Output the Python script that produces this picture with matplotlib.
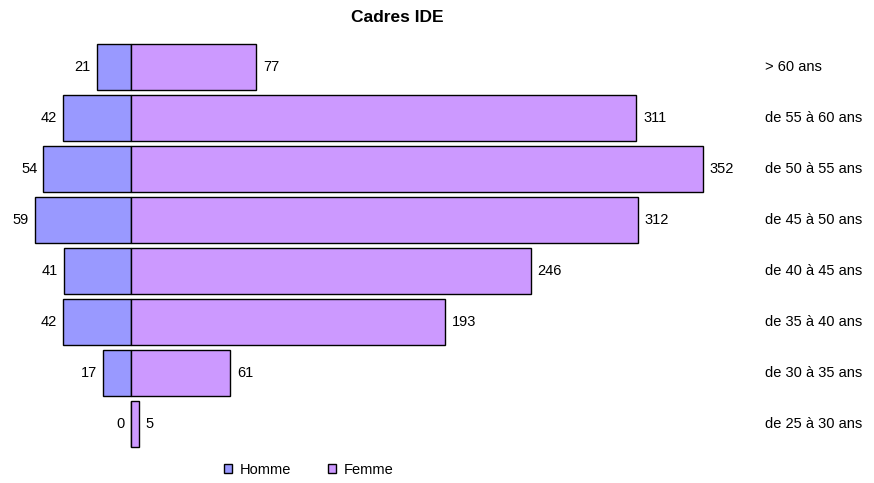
import numpy as np
import matplotlib.pyplot as plt
from matplotlib.patches import Patch

# data
tranches = ['> 60 ans', 'de 55 à 60 ans', 'de 50 à 55 ans', 'de 45 à 50 ans',
            'de 40 à 45 ans', 'de 35 à 40 ans', 'de 30 à 35 ans', 'de 25 à 30 ans']
hommes = [21, 42, 54, 59, 41, 42, 17, 0]
femmes = [77, 311, 352, 312, 246, 193, 61, 5]

c_homme = '#9999FF'
c_femme = '#CC99FF'

plt.rcParams['font.family'] = ['Liberation Sans', 'DejaVu Sans']

fig = plt.figure(figsize=(8.74, 4.83), dpi=100)
ax = fig.add_axes([0, 0, 1, 1])

y = np.arange(len(tranches))
h = 0.9
ax.barh(y, [-v for v in hommes], height=h, color=c_homme, edgecolor='black', linewidth=1)
ax.barh(y, femmes, height=h, color=c_femme, edgecolor='black', linewidth=1)

# value labels
fs = 10.5
for i in range(len(tranches)):
    ax.text(-hommes[i] - 3.7, y[i], str(hommes[i]), ha='right', va='center', fontsize=fs)
    ax.text(femmes[i] + 4.2, y[i], str(femmes[i]), ha='left', va='center', fontsize=fs)
    ax.text(390, y[i], tranches[i], ha='left', va='center', fontsize=fs)

# scale: zero at 131px, 1.625 px per person
ax.set_xlim(-131 / 1.625, (874 - 131) / 1.625)
ax.set_ylim((483 - 67) / 51, -67 / 51)
ax.axis('off')

fig.text(0.455, 0.963, 'Cadres IDE', ha='center', va='center', fontsize=12.5, fontweight='bold')

handles = [Patch(facecolor=c_homme, edgecolor='black', label='Homme'),
           Patch(facecolor=c_femme, edgecolor='black', label='Femme')]
fig.legend(handles=handles, loc='center', bbox_to_anchor=(0.353, 0.027), ncol=2,
           frameon=False, fontsize=fs, handlelength=0.6, handleheight=0.6,
           handletextpad=0.5, columnspacing=2.5)

fig.savefig('out.png', dpi=100)
